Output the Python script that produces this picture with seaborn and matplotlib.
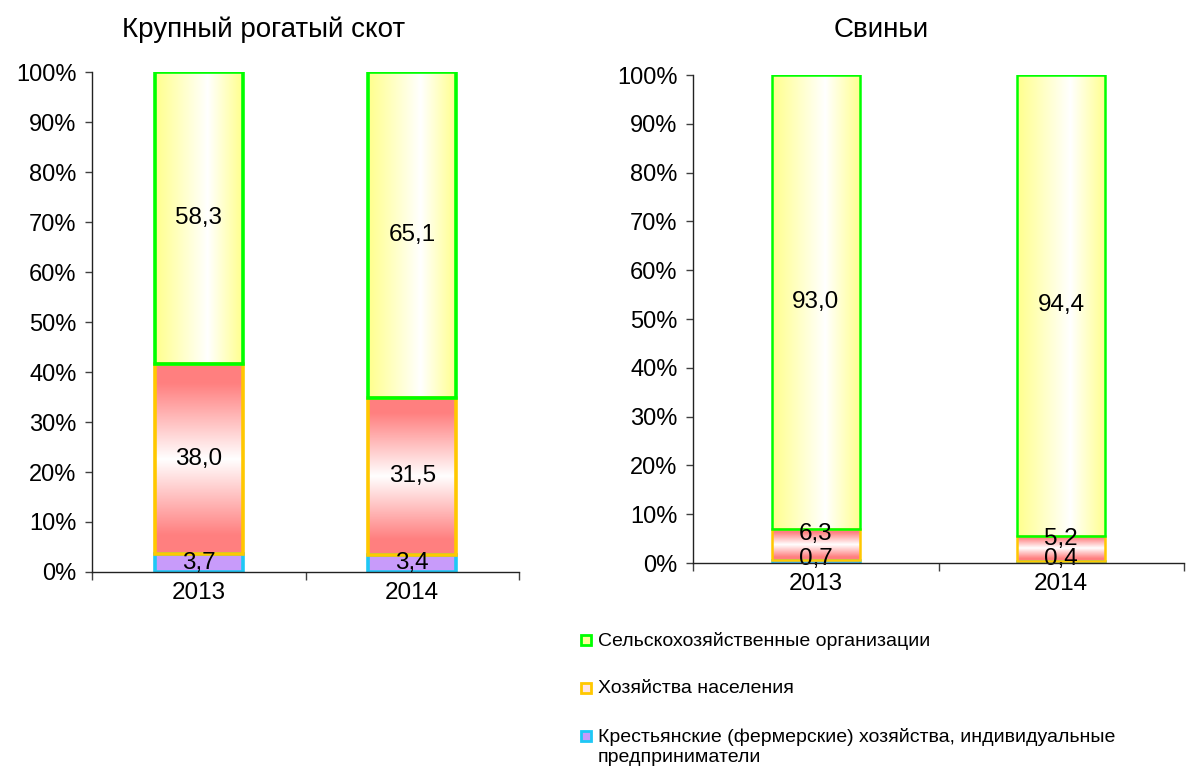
import numpy as np
import pandas as pd
import seaborn as sns
import matplotlib.pyplot as plt
from matplotlib.patches import Rectangle
from matplotlib.ticker import FixedLocator, PercentFormatter

# %%
# структура поголовья по категориям хозяйств, %
years = ['2013', '2014']

cattle_farm = [3.7, 3.4]      # крестьянские (фермерские) хозяйства, ИП
cattle_house = [38.0, 31.5]   # хозяйства населения
cattle_agro = [58.3, 65.1]    # сельхозорганизации

pigs_farm = [0.7, 0.4]
pigs_house = [6.3, 5.2]
pigs_agro = [93.0, 94.4]

titles = ['Крупный рогатый скот', 'Свиньи']
series_names = ['Сельскохозяйственные организации',
                'Хозяйства населения',
                'Крестьянские (фермерские) хозяйства, индивидуальные\nпредприниматели']

sns.set_style('ticks')
plt.rcParams['font.family'] = ['Liberation Sans', 'DejaVu Sans']
plt.rcParams['text.color'] = 'black'
plt.rcParams['xtick.labelcolor'] = 'black'
plt.rcParams['ytick.labelcolor'] = 'black'

W, H = 1186, 769
GREEN, ORANGE, CYAN = '#00FF00', '#FFC800', '#1EC8F5'
LILAC = '#C89BFA'


def px(x, y):
    return x / W, 1 - y / H


def gradient_fill(ax, patch, kind):
    # заливка столбика градиентом, обрезанная по его контуру
    x0, y0 = patch.get_x(), patch.get_y()
    w, h = patch.get_width(), patch.get_height()
    t = np.linspace(0, 1, 256)
    if kind == 'yellow':
        c = 0.6
        k = np.where(t < c, (c - t) / c, (t - c) / (1 - c))
        base = np.array([1.0, 1.0, 0.55])
        img = 1 - (k[:, None] * (1 - base))[None, :, :]
    else:
        k = np.clip(np.abs(t - 0.5) / 0.5 * 1.25, 0, 1)
        base = np.array([1.0, 0.5, 0.5])
        img = 1 - (k[:, None] * (1 - base))[:, None, :]
    im = ax.imshow(img, extent=(x0, x0 + w, y0, y0 + h), aspect='auto',
                   origin='lower', zorder=1, interpolation='bilinear')
    im.set_clip_path(patch)
    patch.set_facecolor('none')
    patch.set_zorder(2)


def fmt(v):
    return f'{v:.1f}'.replace('.', ',')


def draw_stack(ax, farm, house, agro, bar_width, lw, nudge=(0, 0, 0)):
    df = pd.DataFrame({'year': years, 'farm': farm, 'house': house, 'agro': agro})
    house_bottom = df['farm'].to_numpy()
    agro_bottom = (df['farm'] + df['house']).to_numpy()

    sns.barplot(data=df, x='year', y='farm', ax=ax, width=bar_width, errorbar=None,
                color=LILAC, saturation=1, edgecolor=CYAN, linewidth=lw)
    c_farm = ax.containers[-1]
    for p in c_farm:
        p.set_zorder(2)
    sns.barplot(data=df, x='year', y='house', bottom=house_bottom, ax=ax, width=bar_width,
                errorbar=None, color='white', saturation=1, edgecolor=ORANGE, linewidth=lw)
    c_house = ax.containers[-1]
    for p in c_house:
        gradient_fill(ax, p, 'red')
    sns.barplot(data=df, x='year', y='agro', bottom=agro_bottom, ax=ax, width=bar_width,
                errorbar=None, color='white', saturation=1, edgecolor=GREEN, linewidth=lw)
    c_agro = ax.containers[-1]
    for p in c_agro:
        gradient_fill(ax, p, 'yellow')

    for cont, vals, dy in zip([c_farm, c_house, c_agro], [farm, house, agro], nudge):
        anns = ax.bar_label(cont, labels=[fmt(v) for v in vals], label_type='center',
                            fontsize=17.5, color='black', zorder=5)
        for a in anns:
            a.xyann = (0, dy)

    ax.set_xlim(-0.5, 1.5)
    ax.set_ylim(0, 100)
    ax.yaxis.set_major_locator(FixedLocator(np.arange(0, 101, 10)))
    ax.yaxis.set_major_formatter(PercentFormatter(decimals=0))
    ax.xaxis.set_minor_locator(FixedLocator([-0.5, 0.5, 1.5]))
    ax.tick_params(axis='x', which='major', length=0, labelsize=17.5, pad=7)
    ax.tick_params(axis='x', which='minor', length=6, width=1, color='#404040')
    ax.tick_params(axis='y', length=5, width=1, labelsize=17, pad=6, color='#404040')
    ax.set_xlabel('')
    ax.set_ylabel('')
    sns.despine(ax=ax)
    for s in ['left', 'bottom']:
        ax.spines[s].set_color('#222222')
        ax.spines[s].set_linewidth(1)
        ax.spines[s].set_zorder(6)


fig = plt.figure(figsize=(W / 100, H / 100), dpi=100)
ax1 = fig.add_axes([92 / W, 1 - 572 / H, 427 / W, 500 / H])
ax2 = fig.add_axes([693 / W, 1 - 563 / H, 491 / W, 488 / H])

draw_stack(ax1, cattle_farm, cattle_house, cattle_agro, 0.41, 2.6)
draw_stack(ax2, pigs_farm, pigs_house, pigs_agro, 0.36, 1.8, nudge=(2, 7, 0))

fig.text(*px(264, 30), titles[0], ha='center', va='center', fontsize=20)
fig.text(*px(881, 30), titles[1], ha='center', va='center', fontsize=20)

# легенда
legend_rows = [(640, '#FFFF99', GREEN), (688, '#FFE6E6', ORANGE), (736, LILAC, CYAN)]
for (y, fc, ec), name in zip(legend_rows, series_names):
    x0, y0 = px(581, y + 5)
    fig.add_artist(Rectangle((x0, y0), 10 / W, 10 / H, transform=fig.transFigure,
                             facecolor=fc, edgecolor=ec, linewidth=2))
    fig.text(*px(598, y - 8), name, ha='left', va='top', fontsize=14, linespacing=1.25)

fig.savefig('out.png', dpi=100)
